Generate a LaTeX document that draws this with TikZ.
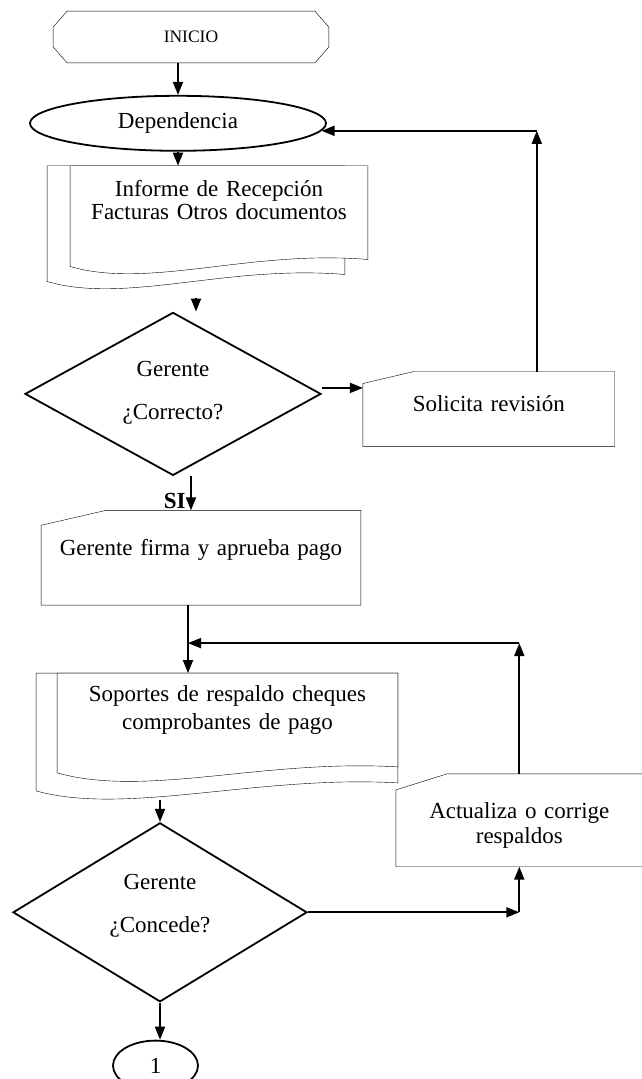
\documentclass[tikz,border=0pt]{standalone}
\usepackage{fontspec}
\setmainfont{Liberation Serif}
\usepackage{tikz}
\usetikzlibrary{arrows.meta,positioning,shapes.geometric,backgrounds}

\begin{document}
\begin{tikzpicture}[
    line width=1.8pt,
    txt/.style={inner sep=0pt, align=center, font=\fontsize{23}{23}\selectfont},
    startbox/.style={txt, rectangle, minimum width=274pt, minimum height=50pt, font=\fontsize{17.5}{17.5}\selectfont},
    terminal/.style={txt, ellipse, draw, minimum width=296pt, minimum height=55pt},
    docbox/.style={txt, rectangle},
    cardbox/.style={txt, rectangle},
    decision/.style={txt, diamond, draw, aspect=2, text width=110pt},
    connector/.style={txt, ellipse, draw, minimum width=85pt, minimum height=50pt},
    shapeline/.style={draw, fill=white},
    lbl/.style={inner sep=0pt, font=\bfseries\fontsize{23}{23}\selectfont},
    arrow/.style={-{Triangle[length=13pt,width=10pt]}}
]
    \useasboundingbox (0,0) rectangle (641pt,-1079pt);

    % Nodes (main column)
    \node (inicio) [startbox] at (191pt,-37pt) {INICIO};
    \node (dep) [terminal, below=32pt of inicio, xshift=-13pt] {Dependencia};
    \node (doc1) [docbox, text width=296pt, text height=30pt, text depth=62pt, below=14pt of dep, xshift=41pt] {Informe de Recepción\\Facturas Otros documentos};
    \node (gte1) [decision, minimum width=296pt, minimum height=163pt, text height=20pt, text depth=54pt, below=52pt of doc1, xshift=-46pt] {Gerente\\[20pt]¿Correcto?};
    \node (si) [lbl, anchor=base west] at ([xshift=-10pt,yshift=-32pt]gte1.south) {SI};
    \node (firma) [cardbox, text width=318pt, text height=44pt, text depth=49pt, below=34pt of gte1, xshift=28pt] {Gerente firma y aprueba pago};
    \node (doc2) [docbox, text width=339pt, text height=27pt, text depth=65pt, font=\fontsize{23}{28}\selectfont, below=68pt of firma, xshift=26.5pt] {Soportes de respaldo cheques\\comprobantes de pago};
    \node (gte2) [decision, minimum width=294pt, minimum height=179pt, text height=20pt, text depth=65pt, below=55pt of doc2, xshift=-67.5pt] {Gerente\\[20pt]¿Concede?};
    \node (one) [connector, below=37pt of gte2, xshift=-4.5pt] {1};

    % Side boxes
    \node (sol) [cardbox, text width=250pt, text height=39pt, text depth=34pt, right=41pt of gte1, yshift=-15pt] {Solicita revisión};
    \node (act) [cardbox, text width=245pt, text height=44pt, text depth=47pt, font=\fontsize{23}{25}\selectfont, right=88pt of gte2, yshift=92pt] {Actualiza o corrige\\respaldos};

    % Outlines behind the text
    \begin{scope}[on background layer]
        \draw [shapeline] ([xshift=14pt]inicio.north west) -- ([xshift=-14pt]inicio.north east) -- ([yshift=-16pt]inicio.north east) -- ([yshift=16pt]inicio.south east) -- ([xshift=-14pt]inicio.south east) -- ([xshift=14pt]inicio.south west) -- ([yshift=16pt]inicio.south west) -- ([yshift=-16pt]inicio.north west) -- cycle;
        % document stacks, back sheet first
        \draw [shapeline] ([xshift=-23pt]doc1.north west) -- ([xshift=-23pt]doc1.north east) -- ([shift={(-23pt,-15pt)}]doc1.south east) .. controls +(-118pt,10pt) and +(79pt,-23pt) .. ([shift={(-23pt,-22pt)}]doc1.south west) -- cycle;
        \draw [shapeline] (doc1.north west) -- (doc1.north east) -- (doc1.south east) .. controls +(-118pt,10pt) and +(79pt,-23pt) .. ([yshift=-7pt]doc1.south west) -- cycle;
        \draw [shapeline] ([xshift=-21pt]doc2.north west) -- (doc2.north east) -- ([yshift=-16pt]doc2.south east) .. controls +(-140pt,8pt) and +(90pt,-25pt) .. ([shift={(-21pt,-24pt)}]doc2.south west) -- cycle;
        \draw [shapeline] (doc2.north west) -- (doc2.north east) -- (doc2.south east) .. controls +(-135pt,8pt) and +(90pt,-25pt) .. ([yshift=-6pt]doc2.south west) -- cycle;
        % boxes with the clipped corner
        \draw [shapeline] ([yshift=-12pt]sol.north west) -- ([xshift=51pt]sol.north west) -- (sol.north east) -- (sol.south east) -- (sol.south west) -- cycle;
        \draw [shapeline] ([yshift=-15pt]firma.north west) -- ([xshift=65pt]firma.north west) -- (firma.north east) -- (firma.south east) -- (firma.south west) -- cycle;
        \draw [shapeline] ([yshift=-16pt]act.north west) -- ([xshift=51pt]act.north west) -- (act.north east) -- (act.south east) -- (act.south west) -- cycle;
    \end{scope}

    % Arrows
    \draw [arrow] (inicio.south -| dep.north) -- (dep.north);
    \draw [arrow] (dep.south) -- (dep.south |- doc1.north);
    \draw [arrow] ([xshift=-23pt,yshift=-38pt]doc1.south) -- ([xshift=23pt]gte1.north);
    \draw [arrow] ([yshift=6pt]gte1.east) -- ([yshift=6pt]gte1.east -| sol.west);
    \coordinate (up1) at ([xshift=48pt]sol.north |- dep.-3);
    \draw [arrow] ([xshift=48pt]sol.north) -- (up1);
    \draw [arrow] (up1) -- (dep.-3);
    \draw [arrow] ([xshift=18pt]gte1.south) -- ([xshift=18pt]gte1.south |- firma.north);
    \draw [arrow] ([xshift=-13pt]firma.south) -- ([xshift=-13pt]firma.south |- doc2.north);
    \coordinate (join) at ([xshift=-39.5pt,yshift=30pt]doc2.north);
    \draw [arrow] (act.north) -- (act.north |- join);
    \draw [arrow] (act.north |- join) -- (join);
    \draw [arrow] ([yshift=-33pt]doc2.south -| gte2.north) -- (gte2.north);
    \draw [arrow] (gte2.east) -- (gte2.east -| act.south);
    \draw [arrow] (gte2.east -| act.south) -- (act.south);
    \draw [arrow] (gte2.south) -- (gte2.south |- one.north);
\end{tikzpicture}
\end{document}
